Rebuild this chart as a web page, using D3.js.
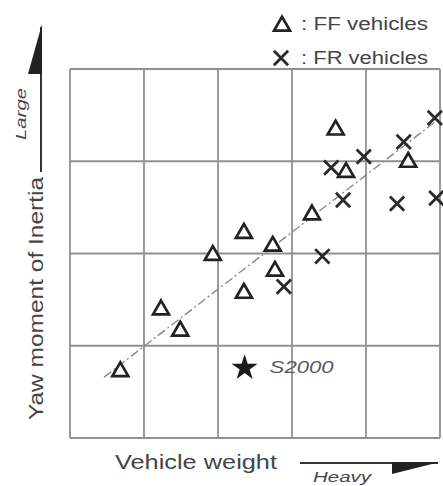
<!DOCTYPE html>
<html>
<head>
<meta charset="utf-8">
<script src="https://cdn.jsdelivr.net/npm/d3@7"></script>
<style>
  html, body { margin: 0; padding: 0; background: #fff; }
  svg { display: block; }
  text { font-family: "Liberation Sans", Arial, sans-serif; }
</style>
</head>
<body>
<svg id="chart" width="443" height="486"></svg>
<script>
// ---- data (arbitrary units: weight 0..5 grid columns, yaw moment 0..4 grid rows) ----
const xTicks = [0, 1, 2, 3, 4, 5];
const yTicks = [0, 1, 2, 3, 4];

const ffWeight = [0.68, 1.23, 1.49, 1.93, 2.35, 2.35, 2.74, 2.77, 3.27, 3.59, 3.73, 4.57];
const ffYaw    = [0.72, 1.39, 1.16, 1.98, 2.22, 1.57, 2.08, 1.81, 2.42, 3.34, 2.88, 2.99];

const frWeight = [2.89, 3.41, 3.53, 3.69, 3.97, 4.42, 4.51, 4.93, 4.95];
const frYaw    = [1.64, 1.97, 2.93, 2.58, 3.05, 2.54, 3.21, 3.47, 2.60];

const s2000 = { name: "S2000", weight: 2.36, yaw: 0.76 };

const trendWeight = [0.46, 4.97];
const trendYaw    = [0.66, 3.45];

const legendLabels = [": FF vehicles", ": FR vehicles"];

// ---- chart ----
const svg = d3.select("#chart");
const x = d3.scaleLinear().domain([0, 5]).range([70, 440]);
const y = d3.scaleLinear().domain([0, 4]).range([438, 69]);

const gridColor = "#909090";
const textColor = "#454545";
const markColor = "#222";

// grid
svg.append("g").selectAll("line.v").data(xTicks).join("line")
  .attr("x1", d => x(d)).attr("x2", d => x(d))
  .attr("y1", y(0)).attr("y2", y(4))
  .attr("stroke", gridColor).attr("stroke-width", 1.8);
svg.append("g").selectAll("line.h").data(yTicks).join("line")
  .attr("x1", x(0)).attr("x2", x(5))
  .attr("y1", d => y(d)).attr("y2", d => y(d))
  .attr("stroke", gridColor).attr("stroke-width", 1.8);

// trend line
const line = d3.line().x(d => x(d[0])).y(d => y(d[1]));
svg.append("path")
  .datum(d3.zip(trendWeight, trendYaw))
  .attr("d", line)
  .attr("fill", "none")
  .attr("stroke", "#8a8a8a")
  .attr("stroke-width", 1.4)
  .attr("stroke-dasharray", "9,3,2,3");

const triSym = d3.symbol().type(d3.symbolTriangle).size(110);
const xSym = d3.symbol().type(d3.symbolX).size(135);

// FF
svg.append("g").selectAll("path").data(d3.zip(ffWeight, ffYaw)).join("path")
  .attr("d", triSym)
  .attr("transform", d => `translate(${x(d[0])},${y(d[1])})`)
  .attr("fill", "#fff")
  .attr("stroke", markColor).attr("stroke-width", 2.7)
  .attr("stroke-linejoin", "miter");

// FR
svg.append("g").selectAll("path").data(d3.zip(frWeight, frYaw)).join("path")
  .attr("d", xSym)
  .attr("transform", d => `translate(${x(d[0])},${y(d[1])})`)
  .attr("fill", "none")
  .attr("stroke", "#2a2a2a").attr("stroke-width", 2.8);

// S2000 star
svg.append("path")
  .attr("d", d3.symbol().type(d3.symbolStar).size(210)())
  .attr("transform", `translate(${x(s2000.weight)},${y(s2000.yaw)})`)
  .attr("fill", "#1a1a1a");
svg.append("text")
  .attr("x", x(s2000.weight) + 25).attr("y", y(s2000.yaw))
  .attr("dy", "0.35em")
  .attr("font-size", 16).attr("font-style", "italic")
  .attr("fill", "#5a5a5a")
  .attr("textLength", 64).attr("lengthAdjust", "spacingAndGlyphs")
  .text(s2000.name);

// legend
const legend = svg.append("g");
legend.append("path").attr("d", triSym).attr("transform", "translate(282,26)")
  .attr("fill", "#fff").attr("stroke", markColor).attr("stroke-width", 2.7);
legend.append("path").attr("d", xSym).attr("transform", "translate(281,58)")
  .attr("fill", "none").attr("stroke", "#2a2a2a").attr("stroke-width", 2.8);
legend.selectAll("text").data(legendLabels).join("text")
  .attr("x", 301).attr("y", (d, i) => 24 + i * 34)
  .attr("dy", "0.35em")
  .attr("font-size", 18).attr("fill", textColor)
  .attr("textLength", 127).attr("lengthAdjust", "spacingAndGlyphs")
  .text(d => d);

// x axis title + arrow
svg.append("text")
  .attr("x", 115).attr("y", 462).attr("dy", "0.35em")
  .attr("font-size", 20).attr("fill", textColor)
  .attr("textLength", 162).attr("lengthAdjust", "spacingAndGlyphs")
  .text("Vehicle weight");
svg.append("line")
  .attr("x1", 300).attr("x2", 438).attr("y1", 463).attr("y2", 463)
  .attr("stroke", "#333").attr("stroke-width", 2);
svg.append("path")
  .attr("d", "M392,462 L440,462 L392,474 Z")
  .attr("fill", "#222");
svg.append("text")
  .attr("x", 313).attr("y", 477).attr("dy", "0.35em")
  .attr("font-size", 15).attr("font-style", "italic").attr("fill", textColor)
  .attr("textLength", 58).attr("lengthAdjust", "spacingAndGlyphs")
  .text("Heavy");

// y axis title + arrow
svg.append("text")
  .attr("transform", "translate(36,420) rotate(-90)")
  .attr("x", 0).attr("y", 0).attr("dy", "0.35em")
  .attr("font-size", 20).attr("fill", textColor)
  .attr("textLength", 243).attr("lengthAdjust", "spacingAndGlyphs")
  .text("Yaw moment of Inertia");
svg.append("line")
  .attr("x1", 41).attr("x2", 41).attr("y1", 172).attr("y2", 27)
  .attr("stroke", "#333").attr("stroke-width", 2);
svg.append("path")
  .attr("d", "M42,24 L42,74 L28,74 Z")
  .attr("fill", "#222");
svg.append("text")
  .attr("transform", "translate(21,140) rotate(-90)")
  .attr("dy", "0.35em")
  .attr("font-size", 14).attr("font-style", "italic").attr("fill", textColor)
  .attr("textLength", 52).attr("lengthAdjust", "spacingAndGlyphs")
  .text("Large");
</script>
</body>
</html>
